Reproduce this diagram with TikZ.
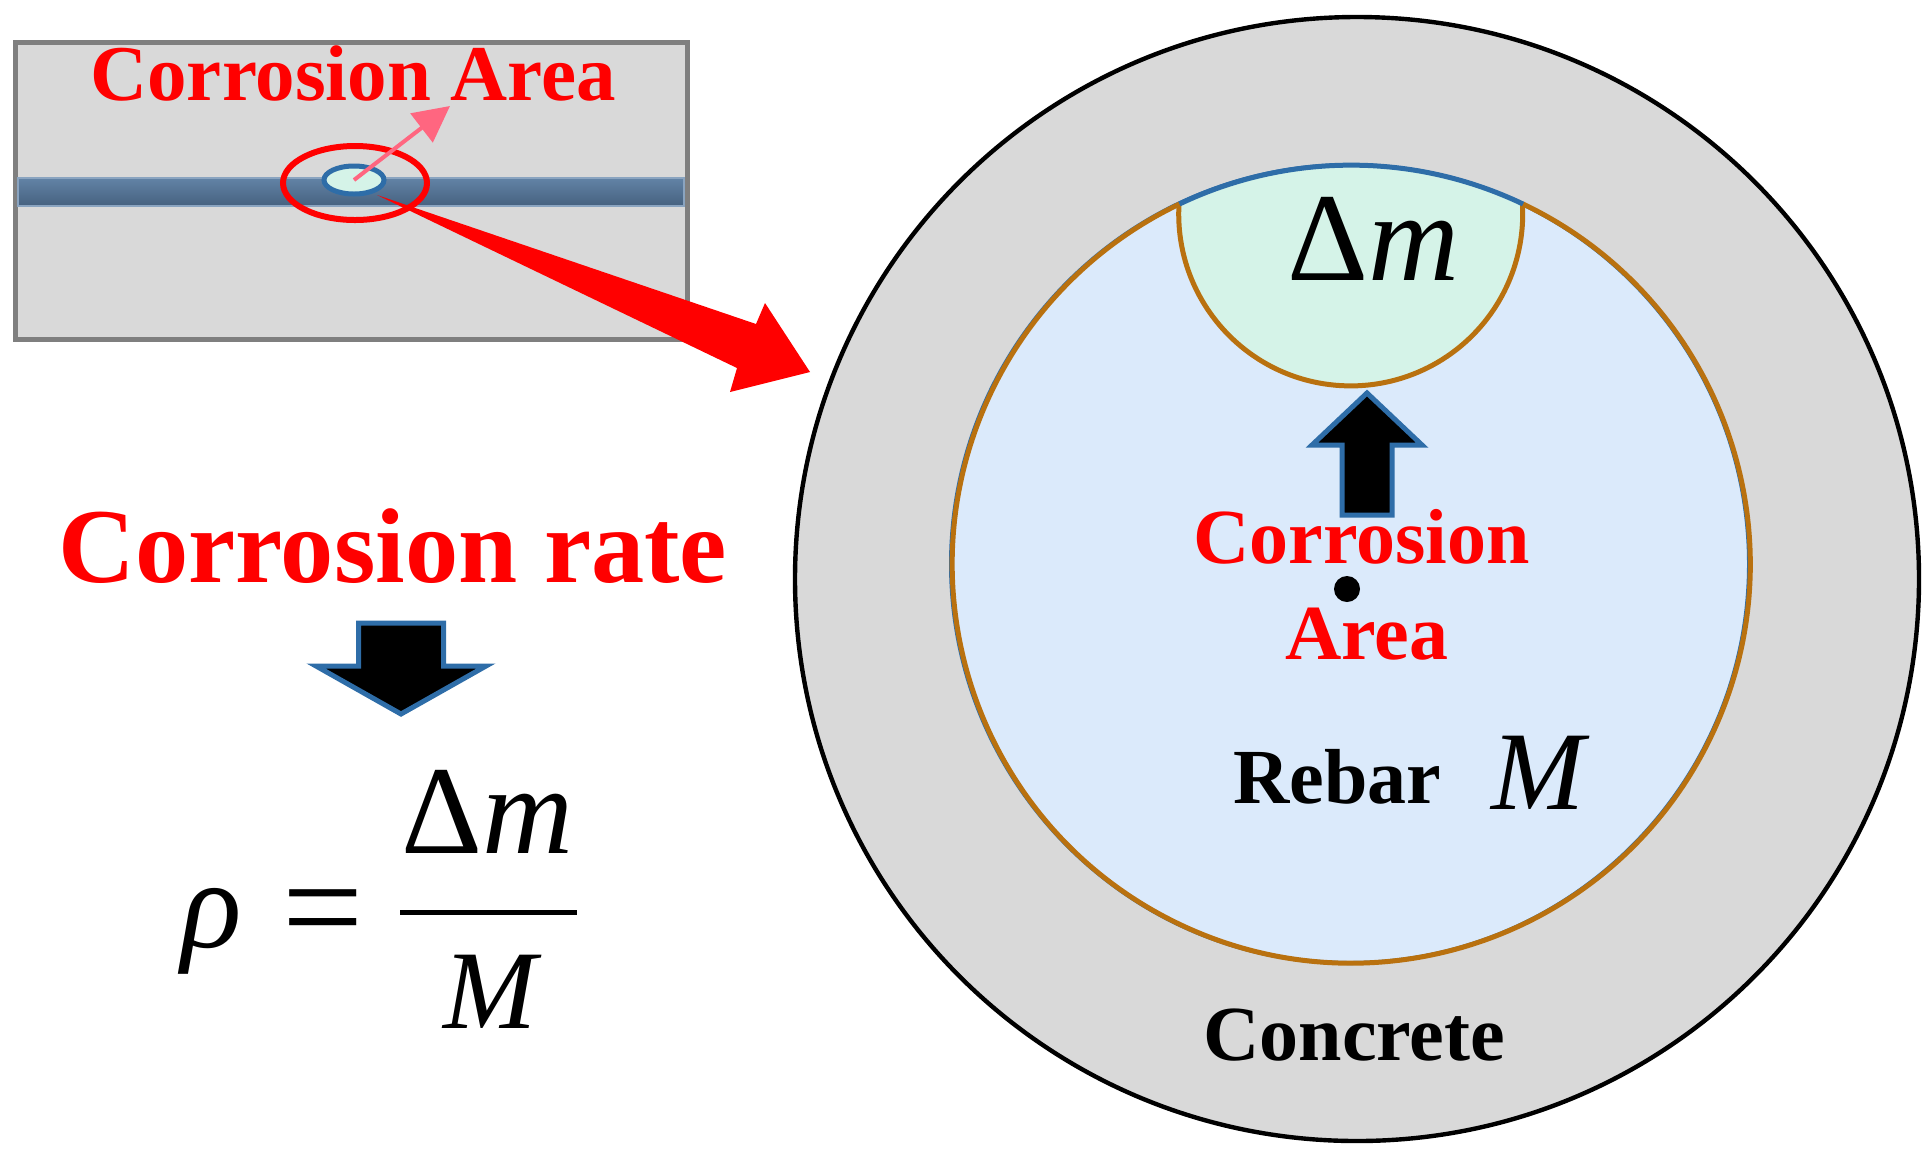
\documentclass[tikz,border=0pt]{standalone}
\usepackage{fontspec}
\setmainfont{Liberation Serif}
\usetikzlibrary{arrows.meta, shapes.geometric}
\definecolor{Concrete}{HTML}{D9D9D9}
\definecolor{Rebar}{HTML}{DBEAFB}
\definecolor{Rust}{HTML}{D5F3E8}
\definecolor{Rim}{HTML}{B9710F}
\definecolor{DBlue}{HTML}{2E6DA8}
\definecolor{Frame}{HTML}{7F7F7F}
\definecolor{RodTop}{HTML}{6283A6}
\definecolor{RodBottom}{HTML}{46617F}
\definecolor{RodEdge}{HTML}{8AA4C0}
\definecolor{Pink}{HTML}{FF6680}
\tikzset{
    redlabel/.style={red, anchor=base west, inner sep=0pt, font=\bfseries\fontsize{39}{39}\selectfont},
    blacklabel/.style={redlabel, black},
    symlabel/.style={black, anchor=base west, inner sep=0pt, font=\fontsize{63}{63}\selectfont},
    masslabel/.style={symlabel, font=\fontsize{56}{56}\selectfont},
}
\NewDocumentCommand{\DrawBlockArrow}{m m m m m m}{
    
    \begin{scope}[shift={(#1,#2)}]
        \draw[DBlue, line width=2.5pt, fill=black] (0,0) -- (#3,#5) -- (#4,#5) -- (#4,#6)
            -- (-#4,#6) -- (-#4,#5) -- (-#3,#5) -- cycle;
    \end{scope}
}

\begin{document}
\begin{tikzpicture}[x=0.5pt, y=-0.5pt]

    \useasboundingbox (0,0) rectangle (1932,1164);

    % cross section
    \draw[black, line width=2.2pt, fill=Concrete] (1357,579) circle (562);
    \draw[DBlue, line width=2pt, fill=Rebar] (1350,564) circle (399);
    \draw[Rim, line width=2.5pt] (1523,204) arc[start angle=-64.5, end angle=244.5, radius=399];
    \fill[Rust] (1179,204) arc[start angle=183.3, end angle=-3.3, radius=172]
        arc[start angle=-64.5, end angle=-115.5, radius=399] -- cycle;
    \draw[Rim, line width=2.5pt] (1179,204) arc[start angle=183.3, end angle=-3.3, radius=172];
    \draw[DBlue, line width=2.5pt] (1523,204) arc[start angle=-64.5, end angle=-115.5, radius=399];
    \fill[black] (1347,589) circle (13);
    \DrawBlockArrow{1367}{393}{55}{25}{52}{122}

    \node[symlabel] (dmtop) at (1287,280) {Δ\textit{m}};
    \node[redlabel] (corrosion) at (1193,563) {Corrosion};
    \node[redlabel] (area) at (1285,659) {Area};
    \node[blacklabel] (rebar) at (1233,803) {Rebar};
    \node[masslabel] (mass) at (1491,809) {\textit{M}};
    \node[blacklabel] (concrete) at (1203,1060) {Concrete};

    % side view
    \draw[Frame, line width=2.5pt, fill=Concrete] (15,42) rectangle (687,339);
    \draw[RodEdge, line width=1pt, top color=RodTop, bottom color=RodBottom] (18,178) rectangle (684,206);
    \node[ellipse, draw=DBlue, line width=2.5pt, fill=Rust, minimum width=30pt, minimum height=14pt, inner sep=0pt] (spot) at (354,180) {};
    \node[ellipse, draw=red, line width=3pt, minimum width=72pt, minimum height=37pt, inner sep=0pt] (ring) at (355,183) {};
    \coordinate (pinktip) at (450,106);
    \draw[Pink, line width=2pt, -{Triangle[length=18pt, width=18pt]}] (spot.center) -- (pinktip);
    \node[redlabel, font=\bfseries\fontsize{39.5}{39.5}\selectfont] (toplabel) at (90,100) {Corrosion Area};

    % tapered arrow
    \coordinate (foot) at (377,195);
    \fill[red] (foot) -- (756,324) -- (765,303) -- (810,372) -- (730,392) -- (737,368) -- cycle;

    % formula
    \node[redlabel, font=\bfseries\fontsize{53.2}{53.2}\selectfont] (rate) at (58,582) {Corrosion rate};
    \DrawBlockArrow{401}{714}{85}{42.5}{-48}{-91}
    \node[symlabel] (rho) at (181,947) {\textit{ρ}};
    \node[symlabel, font=\fontsize{72}{72}\selectfont] (eq) at (282,955) {=};
    \node[symlabel] (dmfrac) at (401,853) {Δ\textit{m}};
    \draw[black, line width=2.5pt] (400,912) -- (577,912);
    \node[masslabel] (massfrac) at (443,1028) {\textit{M}};
\end{tikzpicture}
\end{document}
